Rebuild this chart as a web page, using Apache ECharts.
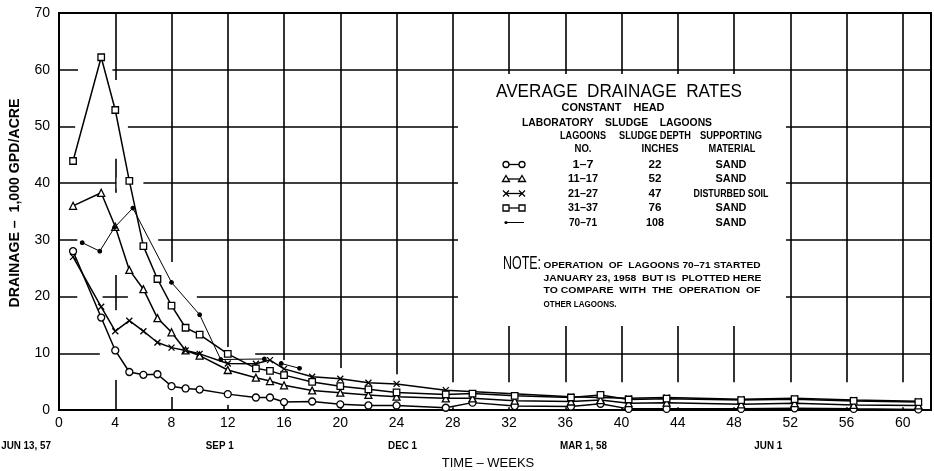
<!DOCTYPE html>
<html><head><meta charset="utf-8">
<script src="https://cdn.jsdelivr.net/npm/echarts@6/dist/echarts.min.js"></script>
<style>html,body{margin:0;padding:0;background:#fff}#c{width:934px;height:471px}</style>
</head><body><div id="c"></div>
<script>
// ---- data (weeks, drainage in 1,000 GPD/acre) ----
const wks1_7 = [1,3,4,5,6,7,8,9,10,12,14,15,16,18,20,22,24,27.5,29.4,32.4,36.4,38.5,40.5,43.2,48.5,52.3,56.5,61.1];
const lag1_7 = [28.0,16.3,10.5,6.7,6.2,6.3,4.2,3.8,3.6,2.8,2.2,2.2,1.4,1.5,1.0,0.8,0.8,0.4,1.3,0.7,0.6,1.1,0.2,0.2,0.2,0.3,0.2,0.1];
const wks11_17 = [1,3,4,5,6,7,8,9,10,12,14,15,16,18,20,22,24,27.5,29.4,32.4,36.4,38.5,40.5,43.2,48.5,52.3,56.5,61.1];
const lag11_17 = [36.0,38.3,32.3,24.7,21.3,16.2,13.7,10.5,9.6,7.05,5.7,5.1,4.35,3.45,3.05,2.65,2.35,2.05,2.05,1.65,1.5,1.75,1.2,1.3,1.0,1.2,0.9,0.8];
const wks21_27 = [1,3,4,5,6,7,8,9,10,12,14,15,16,18,20,22,24,27.5,36.4,40.5,43.2,48.5,52.3,56.5,61.1];
const lag21_27 = [27.0,18.2,13.9,15.75,13.9,11.9,11.0,10.5,9.9,8.2,8.15,8.8,7.25,5.85,5.5,4.8,4.6,3.5,2.35,2.05,2.2,1.9,2.05,1.75,1.55];
const wks31_37 = [1,3,4,5,6,7,8,9,10,12,14,15,16,18,20,22,24,27.5,29.4,32.4,36.4,38.5,40.5,43.2,48.5,52.3,56.5,61.1];
const lag31_37 = [43.9,62.2,52.9,40.4,28.9,23.1,18.4,14.5,13.3,9.9,7.35,6.9,6.15,4.95,4.2,3.65,3.1,2.75,2.9,2.5,2.2,2.65,1.85,2.0,1.75,1.9,1.6,1.4];
const wks70_71 = [1.65,2.9,3.95,5.25,8,10,11.5,14.6,15.2,15.8,17.1];
const lag70_71 = [29.5,28.0,32.2,35.6,22.5,16.8,8.9,9.0,null,8.2,7.35];

const dateLabels = ['JUN 13, 57','SEP 1','DEC 1','MAR 1, 58','JUN 1'];
const dateWeeks = [0, 11.43, 24.43, 37.29, 50.43];

const legendNos = ['1–7','11–17','21–27','31–37','70–71'];
const legendDepth = ['22','52','47','76','108'];
const legendMat = ['SAND','SAND','DISTURBED SOIL','SAND','SAND'];
const noteLines = ['OPERATION  OF  LAGOONS 70–71 STARTED','JANUARY 23, 1958  BUT IS  PLOTTED HERE','TO COMPARE  WITH  THE  OPERATION  OF','OTHER LAGOONS.'];

// ---- chart ----
const FONT = 'Liberation Sans';
const crossPath = 'path://M0,0L10,10M10,0L0,10';
function pairs(w, v){ return w.map((x,i)=>[x, v[i]==null?'-':v[i]]); }
function mk(name, w, v, symbol, size, filled, lw){
  return {type:'line', name, data:pairs(w,v), symbol, symbolSize:size, showAllSymbol:true,
    connectNulls:false, z:3,
    lineStyle:{color:'#000', width:lw||1.5},
    itemStyle:{color: filled?'#000':'#fff', borderColor:'#000', borderWidth:1.3}};
}
const chart = echarts.init(document.getElementById('c'));
chart.setOption({
  animation:false,
  backgroundColor:'#fff',
  grid:{left:59, right:3, top:13, bottom:61, show:true, borderColor:'#000', borderWidth:2,
        containLabel:false, outerBoundsMode:'none'},
  xAxis:{type:'value', min:0, max:62, interval:4,
    name:'TIME – WEEKS', nameLocation:'middle', nameGap:47,
    nameTextStyle:{fontFamily:FONT, fontSize:13, color:'#000', padding:[0,14,0,0]},
    axisLine:{show:true, lineStyle:{color:'#000', width:2}},
    axisTick:{show:false},
    axisLabel:{fontFamily:FONT, fontSize:14, color:'#000', margin:6, formatter:v=> v>60?'':String(v)},
    splitLine:{show:true, lineStyle:{color:'#000', width:1.6}}},
  yAxis:{type:'value', min:0, max:70, interval:10,
    axisLine:{show:true, lineStyle:{color:'#000', width:2}},
    axisTick:{show:false},
    axisLabel:{fontFamily:FONT, fontSize:14, color:'#000', margin:9},
    splitLine:{show:true, lineStyle:{color:'#000', width:1.6}}},
  series:[
    mk('1-7', wks1_7, lag1_7, 'circle', 7, false),
    mk('11-17', wks11_17, lag11_17, 'triangle', 7, false),
    mk('21-27', wks21_27, lag21_27, crossPath, 6, true),
    mk('31-37', wks31_37, lag31_37, 'rect', 6.5, false),
    mk('70-71', wks70_71, lag70_71, 'circle', 3.5, true, 1)
  ]
});

// ---- annotations ----
const px = w => chart.convertToPixel({xAxisIndex:0}, w);
const py = v => chart.convertToPixel({yAxisIndex:0}, v);
const els = [];
// clear areas: grid lines were interrupted around lettering and curves in the original
function clear(w0,w1,v0,v1){
  const x0=px(w0), x1=px(w1), y0=py(v1), y1=py(v0);
  els.push({type:'rect', z:1, shape:{x:x0, y:y0, width:x1-x0, height:y1-y0}, style:{fill:'#fff'}});
}
els.push({type:'rect', z:1, shape:{x:458, y:74, width:328, height:252}, style:{fill:'#fff'}});
clear(1.35,3.8,58,62);
clear(1.15,4.9,44.3,58.2);
clear(4.1,6.0,39,41);
clear(1.3,7.05,29,31);
clear(3.8,4.2,23.8,38.3);
clear(1.3,3.1,19,21);
clear(4.9,9.8,19,21);
clear(3.8,4.2,5.3,17.6);
clear(7.8,8.2,2.3,26.1);
clear(2.9,13.95,9,11);
clear(11.8,12.2,0.9,11.1);
clear(15.8,16.2,0.9,8.8);
clear(19.8,20.2,0.5,7.4);
clear(23.8,24.2,0.5,6.3);
clear(26,61.85,0.5,4.9);

const mctx = document.createElement('canvas').getContext('2d');
function fontStr(size,bold){ return (bold?'bold ':'')+size+'px "'+FONT+'"'; }
function txt(x,y,t,size,bold,align,width,rot){
  const f = fontStr(size,bold);
  let sx = 1;
  if (width){ mctx.font = f; sx = width / mctx.measureText(t).width; }
  els.push({type:'text', z:5, x, y, scaleX:sx, rotation:rot||0,
    style:{text:t, fill:'#000', font:f, textAlign:align||'center', textVerticalAlign:'middle'}});
}
txt(619, 92, 'AVERAGE  DRAINAGE  RATES', 18, false, 'center', 246);
txt(613, 108, 'CONSTANT    HEAD', 11, true, 'center', 103);
txt(617, 122.5, 'LABORATORY    SLUDGE    LAGOONS', 11, true, 'center', 190);
txt(583, 136, 'LAGOONS', 11, true, 'center', 46);
txt(583, 148.5, 'NO.', 11, true, 'center', 17);
txt(655, 136, 'SLUDGE DEPTH', 11, true, 'center', 72);
txt(660, 148.5, 'INCHES', 11, true, 'center', 37);
txt(731, 136, 'SUPPORTING', 11, true, 'center', 62);
txt(732, 148.5, 'MATERIAL', 11, true, 'center', 47);
const rowY = [164.5, 179, 193.5, 208, 222.5];
const noW = [21, 30, 30, 30, 28];
const depW = [13, 13, 13, 13, 18];
const matW = [31, 31, 75, 31, 31];
rowY.forEach((y,i)=>{
  txt(583, y, legendNos[i], 11.5, true, 'center', noW[i]);
  txt(655, y, legendDepth[i], 11.5, true, 'center', depW[i]);
  txt(731, y, legendMat[i], 11, true, 'center', matW[i]);
});
// legend keys
const K0 = 506, K1 = 522;
function keyLine(y){ els.push({type:'line', z:5, shape:{x1:K0,y1:y,x2:K1,y2:y}, style:{stroke:'#000', lineWidth:1.3}}); }
keyLine(rowY[0]); [K0,K1].forEach(x=>els.push({type:'circle', z:6, shape:{cx:x, cy:rowY[0], r:3}, style:{fill:'#fff', stroke:'#000', lineWidth:1.3}}));
keyLine(rowY[1]); [K0,K1].forEach(x=>els.push({type:'polygon', z:6, shape:{points:[[x,rowY[1]-3.5],[x+3.5,rowY[1]+2.5],[x-3.5,rowY[1]+2.5]]}, style:{fill:'#fff', stroke:'#000', lineWidth:1.3}}));
keyLine(rowY[2]); [K0,K1].forEach(x=>{ els.push({type:'line', z:6, shape:{x1:x-3,y1:rowY[2]-3,x2:x+3,y2:rowY[2]+3}, style:{stroke:'#000', lineWidth:1.3}}); els.push({type:'line', z:6, shape:{x1:x-3,y1:rowY[2]+3,x2:x+3,y2:rowY[2]-3}, style:{stroke:'#000', lineWidth:1.3}}); });
keyLine(rowY[3]); [K0,K1].forEach(x=>els.push({type:'rect', z:6, shape:{x:x-3, y:rowY[3]-3, width:6, height:6}, style:{fill:'#fff', stroke:'#000', lineWidth:1.3}}));
els.push({type:'line', z:5, shape:{x1:K0,y1:rowY[4],x2:K1+2,y2:rowY[4]}, style:{stroke:'#000', lineWidth:1}});
els.push({type:'circle', z:6, shape:{cx:K0, cy:rowY[4], r:1.6}, style:{fill:'#000'}});
// note
txt(503, 264, 'NOTE:', 18, false, 'left', 38);
const noteY = [265.5, 278, 290.5, 304];
const noteW = [217, 218, 217, 73];
noteLines.forEach((t,i)=>txt(543.5, noteY[i], t, 9.5, true, 'left', noteW[i]));
// axis titles
txt(15, 203, 'DRAINAGE –  1,000 GPD/ACRE', 14, true, 'center', 209, Math.PI/2);
// date labels under the week axis (shared horizontal compression)
mctx.font = fontStr(10, true);
const dateScale = 29 / mctx.measureText('DEC 1').width;
dateLabels.forEach((t,i)=>{
  const w = mctx.measureText(t).width * dateScale;
  if (i===0) txt(px(dateWeeks[i])-8, 446, t, 10, true, 'right', w);
  else txt(px(dateWeeks[i]), 446, t, 10, true, 'center', w);
});
chart.setOption({graphic:{elements:els}});
</script></body></html>
